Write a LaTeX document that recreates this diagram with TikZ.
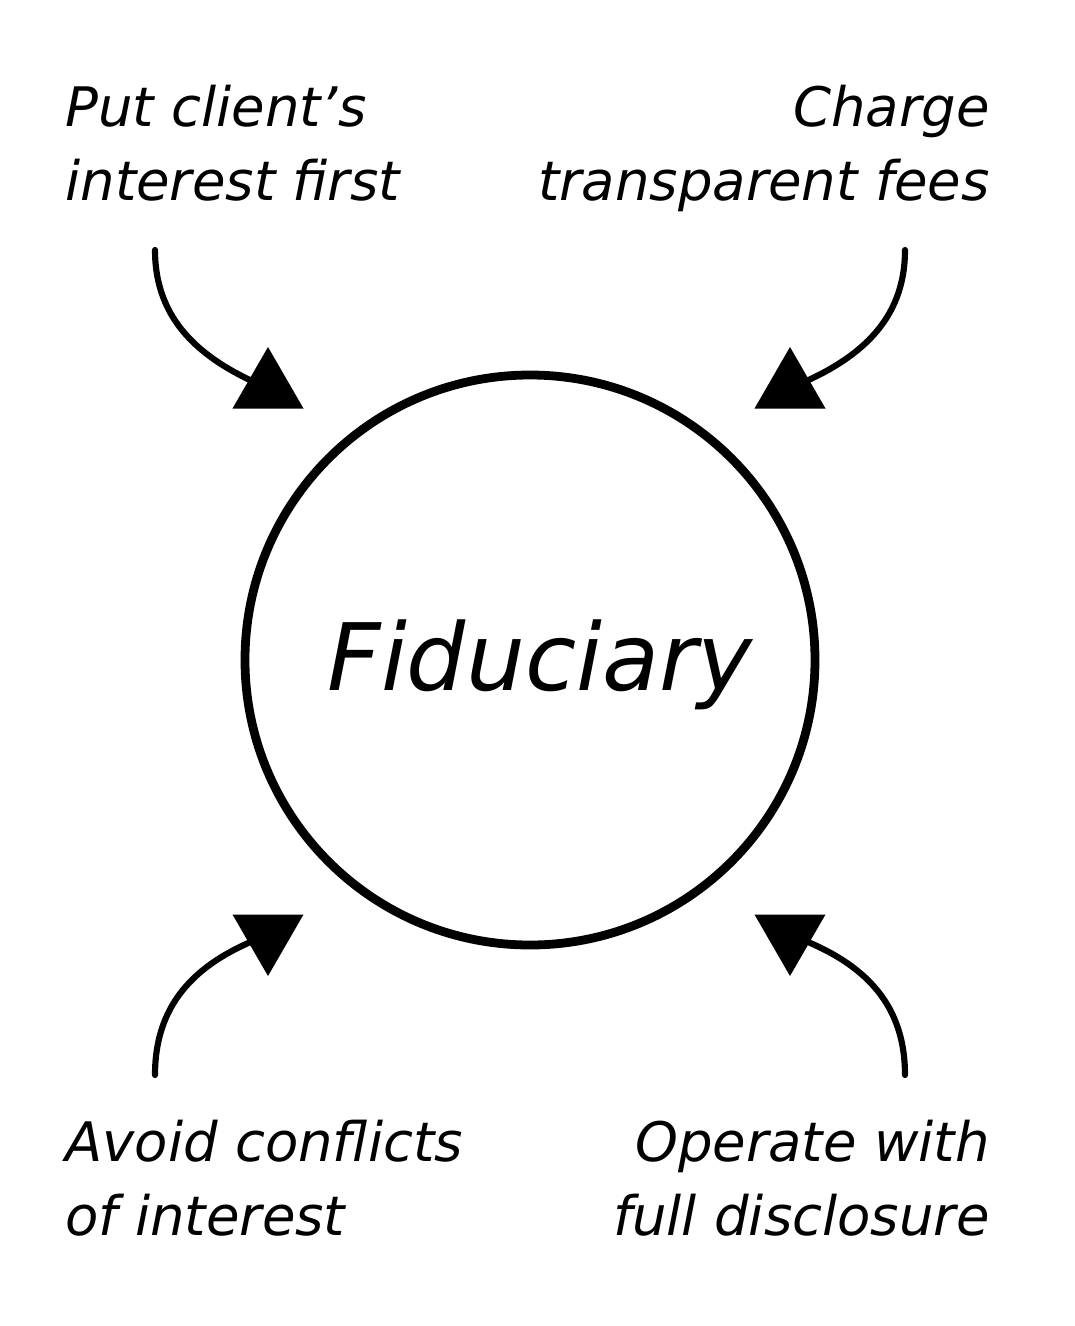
\documentclass[tikz,border=0pt]{standalone}
\usepackage{fontspec}
\setmainfont{DejaVu Sans}
\usetikzlibrary{shapes.geometric}
\begin{document}
\begin{tikzpicture}[x=0.02cm,y=-0.02cm,
  lbl/.style={font=\fontsize{31}{42}\selectfont\itshape,inner sep=0pt},
  tri/.style={regular polygon,regular polygon sides=3,fill=black,minimum size=82*0.02cm,inner sep=0pt},
  conn/.style={line width=3.5pt,line cap=round}]
\useasboundingbox (0,0) rectangle (1075,1326);
\node[circle,draw,line width=5pt,minimum size=570*0.02cm] (c) at (530,660) {};
\node[font=\fontsize{53}{60}\selectfont\itshape] at (540,665) {Fiduciary};
\node[lbl,align=left,anchor=north west] (t1) at (65,85) {Put client's\\interest first};
\node[lbl,align=right,anchor=north east] (t2) at (990,85) {Charge\\transparent fees};
\node[lbl,align=left,anchor=north west] (t3) at (65,1120) {Avoid conflicts\\of interest};
\node[lbl,align=right,anchor=north east] (t4) at (990,1120) {Operate with\\full disclosure};
\node[tri] (a1) at (268,388) {};
\node[tri] (a2) at (790,388) {};
\node[tri,rotate=180] (a3) at (268,935) {};
\node[tri,rotate=180] (a4) at (790,935) {};
\coordinate (s1) at (155,250);
\coordinate (s2) at (905,250);
\coordinate (s3) at (155,1075);
\coordinate (s4) at (905,1075);
\draw[conn] (s1) .. controls (155,320) and (200,360) .. (a1.center);
\draw[conn] (s2) .. controls (905,320) and (860,360) .. (a2.center);
\draw[conn] (s3) .. controls (155,1000) and (200,960) .. (a3.center);
\draw[conn] (s4) .. controls (905,1000) and (860,960) .. (a4.center);
\end{tikzpicture}
\end{document}
